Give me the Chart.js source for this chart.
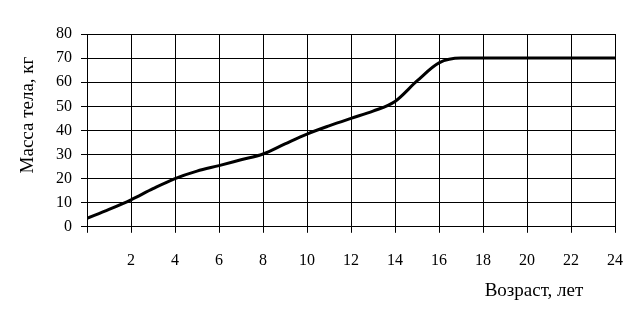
<!DOCTYPE html>
<html>
<head>
<meta charset="utf-8">
<script src="https://cdn.jsdelivr.net/npm/chart.js@4/dist/chart.umd.min.js"></script>
<style>
  html, body { margin: 0; padding: 0; background: #fff; }
  #wrap { width: 642px; height: 325px; position: relative; }
</style>
</head>
<body>
<div id="wrap"><canvas id="massChart"></canvas></div>
<script>
const ages = [0, 1, 2, 3, 4, 5, 6, 7, 8, 9, 10, 11, 12, 13, 14, 15, 16, 17, 18, 19, 20, 21, 22, 23, 24];
const masses = [3.5, 7.2, 11.2, 15.8, 20, 23.1, 25.4, 27.8, 30.2, 34.4, 38.5, 41.9, 45, 48, 52, 60.5, 68, 70, 70, 70, 70, 70, 70, 70, 70];
const yTicks = [0, 10, 20, 30, 40, 50, 60, 70, 80];
const xTicks = [2, 4, 6, 8, 10, 12, 14, 16, 18, 20, 22, 24];
const xTitle = 'Возраст, лет';
const yTitle = 'Масса тела, кг';

const fontFamily = '"Liberation Serif", "Times New Roman", serif';
Chart.defaults.font.family = fontFamily;
Chart.defaults.font.size = 16;
Chart.defaults.color = '#000';

// axis titles: x one sits right, under the last ticks; y one a bit above middle
const axisTitles = {
  id: 'axisTitles',
  afterDraw: (chart) => {
    const { ctx, chartArea } = chart;
    ctx.save();
    ctx.font = '19px ' + fontFamily;
    ctx.fillStyle = '#000';
    ctx.textBaseline = 'middle';
    ctx.textAlign = 'center';
    ctx.fillText(xTitle, chartArea.right - 81, chartArea.bottom + 64);
    ctx.translate(28, chartArea.top + 81);
    ctx.rotate(-Math.PI / 2);
    ctx.fillText(yTitle, 0, 0);
    ctx.restore();
  }
};

new Chart(document.getElementById('massChart').getContext('2d'), {
  type: 'line',
  data: {
    datasets: [{
      data: ages.map((a, i) => ({ x: a, y: masses[i] })),
      borderColor: '#000',
      borderWidth: 3,
      pointRadius: 0,
      fill: false,
      cubicInterpolationMode: 'monotone'
    }]
  },
  options: {
    responsive: true,
    maintainAspectRatio: false,
    animation: false,
    layout: { padding: { left: 47, right: 27, top: 34, bottom: 37 } },
    plugins: {
      legend: { display: false },
      tooltip: { enabled: false }
    },
    scales: {
      x: {
        type: 'linear',
        min: 0,
        max: 24,
        afterBuildTicks: axis => { axis.ticks = [0, ...xTicks].map(v => ({ value: v })); },
        ticks: {
          padding: 18,
          maxRotation: 0,
          autoSkip: false,
          callback: v => (xTicks.includes(v) ? String(v) : '')
        },
        grid: { color: '#000', lineWidth: 1, tickLength: 6 },
        border: { color: '#000', width: 1 }
      },
      y: {
        min: 0,
        max: 80,
        afterBuildTicks: axis => { axis.ticks = yTicks.map(v => ({ value: v })); },
        ticks: { padding: 9 },
        grid: { color: '#000', lineWidth: 1, tickLength: 6 },
        border: { color: '#000', width: 1 }
      }
    }
  },
  plugins: [axisTitles]
});
</script>
</body>
</html>
